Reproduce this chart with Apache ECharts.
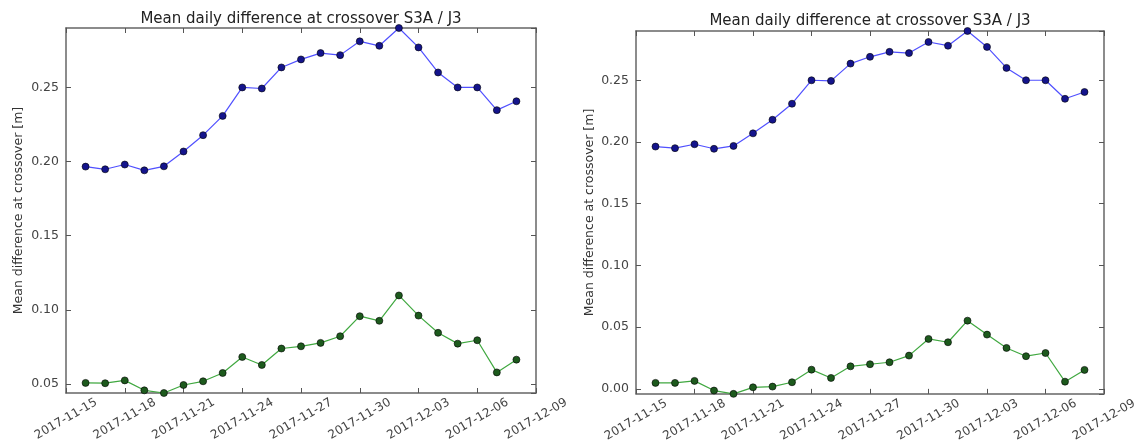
<!DOCTYPE html>
<html>
<head>
<meta charset="utf-8">
<script src="https://cdn.jsdelivr.net/npm/echarts@6/dist/echarts.min.js"></script>
<style>
html,body{margin:0;padding:0;background:#fff;}
#chart{width:1140px;height:444px;}
</style>
</head>
<body>
<div id="chart"></div>
<script>
// ---- data ----
const startDate = '2017-11-15';
const dates = ['2017-11-16','2017-11-17','2017-11-18','2017-11-19','2017-11-20','2017-11-21','2017-11-22','2017-11-23',
  '2017-11-24','2017-11-25','2017-11-26','2017-11-27','2017-11-28','2017-11-29','2017-11-30','2017-12-01',
  '2017-12-02','2017-12-03','2017-12-04','2017-12-05','2017-12-06','2017-12-07','2017-12-08'];
const tickLabels = ['2017-11-15','2017-11-18','2017-11-21','2017-11-24','2017-11-27','2017-11-30','2017-12-03','2017-12-06','2017-12-09'];
const blueLeft = [0.1966,0.1948,0.1980,0.1941,0.1968,0.2068,0.2178,0.2308,0.2500,0.2493,0.2635,0.2689,0.2732,0.2718,0.2811,0.2781,0.2901,0.2770,0.2601,0.2500,0.2500,0.2347,0.2407];
const greenLeft = [0.0507,0.0505,0.0524,0.0457,0.0439,0.0493,0.0518,0.0574,0.0682,0.0628,0.0739,0.0754,0.0777,0.0822,0.0957,0.0926,0.1097,0.0961,0.0845,0.0772,0.0795,0.0578,0.0664];
const blueRight = [0.1963,0.1950,0.1982,0.1945,0.1968,0.2070,0.2180,0.2310,0.2500,0.2495,0.2635,0.2690,0.2730,0.2720,0.2810,0.2780,0.2899,0.2770,0.2600,0.2500,0.2500,0.2350,0.2405];
const greenRight = [0.0049,0.0049,0.0065,-0.0013,-0.0040,0.0013,0.0019,0.0054,0.0156,0.0089,0.0183,0.0200,0.0216,0.0270,0.0405,0.0378,0.0553,0.0440,0.0332,0.0265,0.0291,0.0059,0.0154];
const titleText = 'Mean daily difference at crossover S3A / J3';
const yName = 'Mean difference at crossover [m]';

// ---- helpers ----
const DAY = 86400000;
const t0 = Date.parse(startDate);
const xs = dates.map(d => (Date.parse(d) - t0) / DAY);
const pairs = vals => vals.map((v, i) => [xs[i], v]);
const FONT = 'DejaVu Sans';
const frame = '#666';

function xAxes(gridIndex) {
  const base = {
    type: 'value', gridIndex, min: 0, max: 24, interval: 3,
    splitLine: {show: false},
    axisLine: {show: true, onZero: false, lineStyle: {color: frame, width: 1.5}},
    axisTick: {show: true, inside: true, length: 5, lineStyle: {color: '#555'}}
  };
  return [
    Object.assign({}, base, {
      position: 'bottom',
      axisLabel: {show: true, rotate: 30, align: 'center', verticalAlign: 'middle', margin: 26,
        fontFamily: FONT, fontSize: 12, color: '#444',
        formatter: v => tickLabels[Math.round(v / 3)]}
    }),
    Object.assign({}, base, {position: 'top', axisLabel: {show: false}})
  ];
}
function yAxes(gridIndex, lo, hi, gap) {
  const base = {
    type: 'value', gridIndex, min: lo, max: hi,
    splitLine: {show: false},
    axisLine: {show: true, onZero: false, lineStyle: {color: frame, width: 1.5}},
    axisTick: {show: true, inside: true, length: 5, lineStyle: {color: '#555'}}
  };
  return [
    Object.assign({}, base, {
      position: 'left',
      name: yName, nameLocation: 'middle', nameRotate: 90, nameGap: gap,
      nameTextStyle: {fontFamily: FONT, fontSize: 12.5, color: '#333'},
      axisLabel: {show: true, margin: 7, fontFamily: FONT, fontSize: 12.5, color: '#444',
        showMinLabel: false, showMaxLabel: false,
        formatter: v => v.toFixed(2)}
    }),
    Object.assign({}, base, {position: 'right', axisLabel: {show: false}})
  ];
}

const loL = Math.min(...blueLeft, ...greenLeft), hiL = Math.max(...blueLeft, ...greenLeft);
const loR = Math.min(...blueRight, ...greenRight), hiR = Math.max(...blueRight, ...greenRight);

function lineSeries(vals, xi, yi, lineColor, markColor) {
  return {
    type: 'line', xAxisIndex: xi, yAxisIndex: yi, data: pairs(vals),
    symbol: 'circle', symbolSize: 7, showSymbol: true,
    lineStyle: {color: lineColor, width: 1.2},
    itemStyle: {color: markColor, borderColor: '#000', borderWidth: 0.6},
    emphasis: {disabled: true}, animation: false, clip: false
  };
}

const chart = echarts.init(document.getElementById('chart'), null, {renderer: 'canvas'});
chart.setOption({
  backgroundColor: '#fff',
  animation: false,
  grid: [
    {left: 66, top: 28, width: 470, height: 365},
    {left: 636, top: 31, width: 468, height: 363}
  ],
  xAxis: [...xAxes(0), ...xAxes(1)],
  yAxis: [...yAxes(0, loL, hiL, 41), ...yAxes(1, loR, hiR, 40)],
  series: [
    lineSeries(blueLeft, 0, 0, '#5050ff', '#14148c'),
    lineSeries(greenLeft, 0, 0, '#40a840', '#1d5a1d'),
    lineSeries(blueRight, 2, 2, '#5050ff', '#14148c'),
    lineSeries(greenRight, 2, 2, '#40a840', '#1d5a1d')
  ],
  graphic: [
    {type: 'text', x: 301, y: 19, style: {text: titleText, textAlign: 'center', textVerticalAlign: 'middle',
      font: '15px "DejaVu Sans"', fill: '#222'}},
    {type: 'text', x: 870, y: 21, style: {text: titleText, textAlign: 'center', textVerticalAlign: 'middle',
      font: '15px "DejaVu Sans"', fill: '#222'}}
  ]
});
</script>
</body>
</html>
